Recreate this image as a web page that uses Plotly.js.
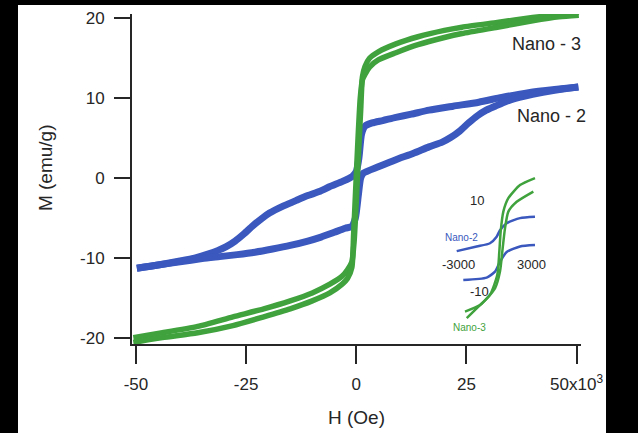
<!DOCTYPE html>
<html>
<head>
<meta charset="utf-8">
<script src="https://cdn.plot.ly/plotly-3.0.1.min.js"></script>
<style>html,body{margin:0;padding:0;background:#000;}#chart{width:638px;height:433px;}</style>
</head>
<body>
<div id="chart"></div>
<script>
// ---- Main plot data (H in kOe, M in emu/g) ----
const blueDescH = [50.4, 45, 39.1, 33, 27.8, 22, 16.5, 12.5, 9.0, 6, 3.6, 2.0, 1.2, 0.6, 0, -0.9, -3, -6.1, -8.4, -11, -13.6, -16.5, -19.7, -21.5, -23.5, -25.5, -27.5, -29.5, -31.5, -33.5, -36.5, -40, -45, -49.8];
const blueDescM = [11.4, 11.1, 10.7, 10.1, 9.5, 9.0, 8.5, 8.0, 7.6, 7.2, 6.9, 6.5, 5.5, 2.5, 0.8, 0.2, -0.4, -1.1, -1.7, -2.2, -2.8, -3.5, -4.4, -5.1, -6.0, -7.0, -7.9, -8.6, -9.1, -9.5, -10.0, -10.4, -10.9, -11.3];
const blueAscH = [-49.8, -45, -40, -35, -31, -27, -23, -19, -15, -11, -8, -5, -2.5, -1, -0.2, 0.5, 1.0, 1.6, 5, 9, 13, 16.5, 19.5, 21.5, 23.5, 25.5, 27.5, 29.5, 31.5, 34, 37, 40, 45, 50.4];
const blueAscM = [-11.3, -10.9, -10.5, -10.1, -9.85, -9.6, -9.3, -8.9, -8.45, -7.9, -7.4, -6.8, -6.3, -6.05, -5.0, -2.0, 0, 0.6, 1.4, 2.3, 3.1, 3.9, 4.5, 5.1, 5.9, 6.9, 7.8, 8.5, 9.0, 9.6, 10.1, 10.5, 11.0, 11.4];

const greenDescH = [50.5, 46, 40, 32, 24, 20, 14, 9, 5, 3, 2, 1.4, 1.0, 0.5, 0, -0.5, -1, -2, -3.2, -6, -10, -15, -21, -28, -36, -44, -50.6];
const greenDescM = [20.8, 20.5, 20.1, 19.5, 18.9, 18.5, 17.7, 16.8, 15.8, 15.0, 14.0, 12.7, 8.5, 3, -3, -8, -10.5, -11.5, -12.3, -13.3, -14.4, -15.4, -16.4, -17.4, -18.6, -19.4, -20.0];
const greenAscH = [-50.6, -44, -36, -28, -21, -15, -10, -6, -3.2, -2, -1, -0.6, -0.1, 0.4, 0.9, 1.4, 2, 3, 5, 9, 14, 20, 24, 32, 40, 46, 50.5];
const greenAscM = [-20.6, -20.0, -19.4, -18.5, -17.4, -16.4, -15.4, -14.4, -13.3, -12.6, -11.2, -7, -1, 5, 10, 12.3, 13.0, 13.9, 14.8, 15.7, 16.7, 17.6, 18.1, 18.9, 19.7, 20.2, 20.4];

// ---- Inset data (H in Oe, M in emu/g) ----
const insetBlueUpH = [3000, 1816, 763, 237, -26, -553, -1605, -3180];
const insetBlueUpM = [6.4, 6.1, 5.0, 3.5, 2.1, 0.7, 0, -1.0];
const insetBlueLoH = [3000, 1816, 763, 237, -158, -816, -2660];
const insetBlueLoM = [0.3, 0, -1.2, -3.3, -5.4, -6.7, -7.2];
const insetGreenAH = [3000, 1816, 895, 500, 290, 184, 26, -553, -1605, -2390];
const insetGreenAM = [14.7, 13.2, 10.4, 7.5, 3.2, -1.1, -6.1, -10.4, -13.3, -15.4];
const insetGreenBH = [2870, 1553, 895, 632, 447, 237, -158, -1342, -2526];
const insetGreenBM = [11.8, 9.6, 7.5, 3.9, -0.4, -5.4, -9.0, -12.6, -14.0];

// ---- Tick labels ----
const xTickVals = [-50, -25, 0, 25, 50];
const xTickText = ["-50", "-25", "0", "25", "50x10<sup>3</sup>"];
const yTickVals = [-20, -10, 0, 10, 20];
const yTickText = ["-20", "-10", "0", "10", "20"];
const seriesNames = ["Nano - 2", "Nano - 3"];
const insetNames = ["Nano-2", "Nano-3"];

const BLUE = "#3a58bd";
const GREEN = "#3fa23d";
const TXT = "#262626";
const FONT = "Liberation Sans, Arial, sans-serif";

function line(x, y, color, width, xa, ya, name) {
  return {x: x, y: y, type: "scatter", mode: "lines", name: name, showlegend: false,
    xaxis: xa, yaxis: ya, hoverinfo: "skip",
    line: {color: color, width: width, shape: "spline", smoothing: 0.6}};
}

const data = [
  line(blueDescH, blueDescM, BLUE, 7, "x", "y", seriesNames[0]),
  line(blueAscH, blueAscM, BLUE, 7, "x", "y", seriesNames[0]),
  line(greenDescH, greenDescM, GREEN, 5.5, "x", "y", seriesNames[1]),
  line(greenAscH, greenAscM, GREEN, 5.5, "x", "y", seriesNames[1]),
  line(insetBlueUpH, insetBlueUpM, BLUE, 2.5, "x2", "y2", insetNames[0]),
  line(insetBlueLoH, insetBlueLoM, BLUE, 2.5, "x2", "y2", insetNames[0]),
  line(insetGreenAH, insetGreenAM, GREEN, 2.5, "x2", "y2", insetNames[1]),
  line(insetGreenBH, insetGreenBM, GREEN, 2.5, "x2", "y2", insetNames[1])
];

const layout = {
  width: 638, height: 433,
  margin: {l: 132, r: 57, t: 14, b: 89, pad: 0},
  paper_bgcolor: "#000000",
  plot_bgcolor: "rgba(0,0,0,0)",
  font: {family: FONT, color: TXT, size: 17},
  showlegend: false,
  xaxis: {
    range: [-50.9, 51], tickvals: xTickVals, ticktext: xTickText,
    ticks: "outside", ticklen: 18, tickwidth: 2, tickcolor: TXT,
    showline: true, linewidth: 2, linecolor: TXT, showgrid: false, zeroline: false,
    tickfont: {size: 17, color: TXT}, ticklabelstandoff: 6,
    title: {text: "H (Oe)", font: {size: 19, color: TXT}, standoff: 17}
  },
  yaxis: {
    range: [-20.8, 20.55], tickvals: yTickVals, ticktext: yTickText,
    ticks: "outside", ticklen: 16, tickwidth: 2, tickcolor: TXT,
    showline: true, linewidth: 2, linecolor: TXT, showgrid: false, zeroline: false,
    tickfont: {size: 17, color: TXT}, ticklabelstandoff: 6
  },
  xaxis2: {domain: [0.7198, 0.906], anchor: "y2", range: [-3300, 3300], visible: false},
  yaxis2: {domain: [0.07, 0.514], anchor: "x2", range: [-16, 15.5], visible: false},
  shapes: [
    {type: "rect", xref: "paper", yref: "paper", x0: -0.2539, x1: 1.0557, y0: -0.27, y1: 1.0273,
     fillcolor: "#ffffff", line: {width: 0}, layer: "below"}
  ],
  annotations: [
    {xref: "paper", yref: "paper", x: -0.1938, y: 0.536, xanchor: "center", yanchor: "middle", text: "M (emu/g)", textangle: -90, showarrow: false, font: {size: 19, color: TXT}},
    {xref: "x", yref: "y", x: 43.2, y: 16.8, text: seriesNames[1], showarrow: false, font: {size: 18, color: TXT}},
    {xref: "x", yref: "y", x: 44.3, y: 7.8, text: seriesNames[0], showarrow: false, font: {size: 18, color: TXT}},
    {xref: "x2", yref: "y2", x: -1579, y: 9.8, text: "10", showarrow: false, font: {size: 13, color: TXT}},
    {xref: "x2", yref: "y2", x: -1342, y: -9.7, text: "-10", showarrow: false, font: {size: 13, color: TXT}},
    {xref: "x2", yref: "y2", x: -3055, y: -3.8, text: "-3000", showarrow: false, font: {size: 13, color: TXT}},
    {xref: "x2", yref: "y2", x: 2740, y: -3.8, text: "3000", showarrow: false, font: {size: 13, color: TXT}},
    {xref: "x2", yref: "y2", x: -2787, y: 1.9, text: insetNames[0], showarrow: false, font: {size: 10, color: BLUE}},
    {xref: "paper", yref: "paper", x: 0.7506, y: 0.0506, xanchor: "center", yanchor: "middle", text: insetNames[1], showarrow: false, font: {size: 10, color: GREEN}}
  ]
};

Plotly.newPlot("chart", data, layout, {staticPlot: true, displayModeBar: false});
</script>
</body>
</html>
